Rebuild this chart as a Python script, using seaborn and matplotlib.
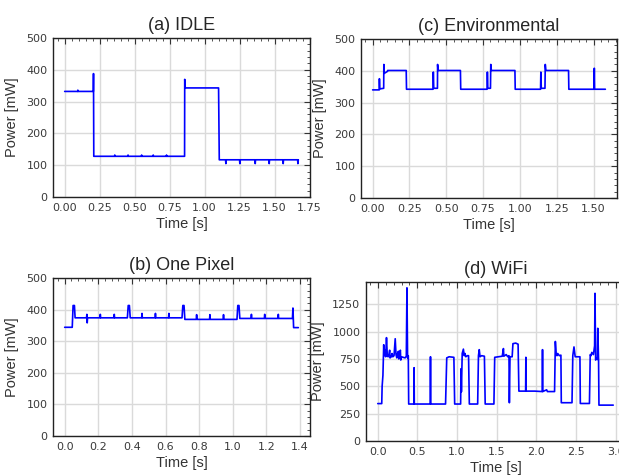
import matplotlib
matplotlib.use("Agg")
import matplotlib.pyplot as plt
from matplotlib.ticker import MultipleLocator, AutoMinorLocator
import seaborn as sns

# (a) IDLE
idle_t = [0.00, 0.093, 0.094, 0.095, 0.205, 0.206, 0.208, 0.357, 0.358, 0.359, 0.452, 0.453, 0.454,
          0.549, 0.550, 0.551, 0.632, 0.633, 0.634, 0.727, 0.728, 0.729, 0.857, 0.858, 0.862,
          1.100, 1.105, 1.150, 1.152, 1.154, 1.250, 1.252, 1.254, 1.360, 1.362, 1.364,
          1.460, 1.462, 1.464, 1.560, 1.562, 1.564, 1.665, 1.667, 1.670]
idle_p = [332, 332, 336, 332, 332, 388, 128, 128, 132, 128, 128, 132, 128,
          128, 132, 128, 128, 132, 128, 128, 132, 128, 128, 370, 343,
          343, 117, 117, 105, 117, 117, 105, 117, 117, 105, 117,
          117, 105, 117, 117, 105, 117, 117, 105, 117]

# (b) One Pixel
pixel_t = [0.000, 0.045, 0.050, 0.058, 0.062, 0.130, 0.132, 0.134, 0.136, 0.210, 0.212, 0.214,
           0.293, 0.295, 0.297, 0.373, 0.378, 0.385, 0.390, 0.458, 0.460, 0.462,
           0.538, 0.540, 0.542, 0.618, 0.620, 0.622, 0.698, 0.703, 0.710, 0.715,
           0.783, 0.785, 0.787, 0.862, 0.864, 0.866, 0.943, 0.945, 0.947,
           1.025, 1.030, 1.037, 1.042, 1.109, 1.111, 1.113, 1.188, 1.190, 1.192,
           1.269, 1.271, 1.273, 1.355, 1.358, 1.362, 1.390]
pixel_p = [344, 344, 413, 413, 374, 374, 385, 358, 374, 374, 385, 374,
           374, 385, 374, 374, 413, 413, 374, 374, 388, 374,
           374, 388, 374, 374, 388, 374, 374, 413, 413, 369,
           369, 384, 369, 369, 384, 369, 369, 384, 369,
           369, 413, 413, 372, 372, 385, 372, 372, 385, 372,
           372, 385, 372, 372, 405, 343, 343]

# (c) Environmental
env_t = [0.000, 0.045, 0.046, 0.048, 0.075, 0.076, 0.079, 0.100, 0.102, 0.228, 0.230,
         0.410, 0.412, 0.415, 0.440, 0.441, 0.444, 0.596, 0.598,
         0.777, 0.779, 0.782, 0.800, 0.802, 0.806, 0.966, 0.968,
         1.140, 1.142, 1.145, 1.170, 1.172, 1.176, 1.330, 1.332,
         1.503, 1.505, 1.507, 1.580]
env_p = [340, 340, 375, 343, 345, 420, 392, 398, 401, 401, 342,
         342, 396, 345, 345, 420, 401, 401, 342,
         342, 396, 345, 345, 420, 401, 401, 342,
         342, 396, 345, 345, 420, 401, 401, 342,
         342, 408, 342, 342]

# (d) WiFi
wifi_t = [0.000, 0.050, 0.055, 0.065, 0.075, 0.080, 0.090, 0.100, 0.110, 0.120, 0.130, 0.140,
          0.150, 0.155, 0.170, 0.180, 0.190, 0.205, 0.220, 0.230, 0.240, 0.250, 0.260, 0.265,
          0.275, 0.285, 0.290, 0.300, 0.320, 0.345, 0.360, 0.368, 0.376, 0.385, 0.390,
          0.455, 0.458, 0.461, 0.662, 0.665, 0.668, 0.855, 0.870, 0.900, 0.960, 0.970,
          1.045, 1.050, 1.055, 1.065, 1.080, 1.090, 1.100, 1.110, 1.130, 1.145, 1.155,
          1.260, 1.270, 1.280, 1.290, 1.310, 1.345, 1.355, 1.465, 1.475, 1.520, 1.570,
          1.585, 1.590, 1.620, 1.640, 1.655, 1.660, 1.668, 1.695, 1.705, 1.740, 1.770,
          1.780, 1.865, 1.868, 1.871, 1.980, 2.075, 2.078, 2.081, 2.130, 2.140, 2.230,
          2.240, 2.250, 2.260, 2.270, 2.290, 2.310, 2.315, 2.450, 2.460, 2.475, 2.490,
          2.550, 2.555, 2.670, 2.680, 2.690, 2.700, 2.720, 2.735, 2.740, 2.748, 2.760,
          2.770, 2.775, 2.785, 2.790, 2.970]
wifi_p = [342, 342, 500, 600, 880, 780, 830, 770, 945, 780, 770, 790,
          830, 760, 770, 800, 770, 780, 935, 790, 760, 800, 820, 750,
          790, 830, 740, 770, 765, 760, 775, 1400, 760, 780, 338,
          338, 670, 338, 338, 770, 338, 338, 760, 770, 765, 338,
          338, 660, 450, 800, 840, 780, 800, 770, 780, 780, 338,
          338, 780, 835, 770, 780, 775, 338, 338, 765, 770, 775,
          845, 775, 790, 770, 780, 350, 770, 770, 890, 895, 885,
          456, 456, 765, 456, 456, 452, 835, 452, 468, 452, 452,
          910, 800, 780, 800, 780, 785, 350, 350, 780, 860, 770,
          770, 343, 343, 790, 780, 810, 790, 870, 1350, 740, 760,
          745, 1030, 740, 328, 328]

sns.set_theme(style="whitegrid")
plt.rcParams['font.family'] = ['Liberation Sans', 'DejaVu Sans']

fig = plt.figure(figsize=(6.19, 4.75), dpi=100)


def draw(rect, t, p, title, xstep, ystep, ytop=500):
    ax = fig.add_axes(rect)
    sns.lineplot(x=t, y=p, ax=ax, color='#0000ff', linewidth=1.2,
                 estimator=None, sort=False)
    if ytop is None:
        ax.set_ylim(bottom=0)
    else:
        ax.set_ylim(0, ytop)
    ax.xaxis.set_major_locator(MultipleLocator(xstep))
    ax.yaxis.set_major_locator(MultipleLocator(ystep))
    ax.xaxis.set_minor_locator(AutoMinorLocator(5))
    ax.yaxis.set_minor_locator(AutoMinorLocator(5))
    ax.tick_params(which='both', direction='in', top=True, right=True,
                   color='#333333', labelcolor='#3a3a3a',
                   labelsize=8, labelfontfamily='DejaVu Sans')
    ax.tick_params(which='major', length=4, width=0.8, pad=4)
    ax.tick_params(which='minor', length=2, width=0.6)
    ax.grid(which='major', color='#dadada', linewidth=1.0)
    ax.grid(which='minor', visible=False)
    for s in ax.spines.values():
        s.set_color('#222222')
        s.set_linewidth(1.0)
    ax.set_title(title, fontsize=13, pad=6)
    ax.set_xlabel('Time [s]', fontsize=10.5, color='#333333', labelpad=3)
    ax.set_ylabel('Power [mW]', fontsize=10.5, color='#333333', labelpad=5)
    return ax


draw([53/619, 1-197/475, 257/619, 159/475], idle_t, idle_p, '(a) IDLE', 0.25, 100)
draw([53/619, 1-436/475, 257/619, 158/475], pixel_t, pixel_p, '(b) One Pixel', 0.2, 100)
draw([361/619, 1-198/475, 256/619, 159/475], env_t, env_p, '(c) Environmental', 0.25, 100)
draw([366/619, 1-441/475, 259/619, 159/475], wifi_t, wifi_p, '(d) WiFi', 0.5, 250, ytop=None)

fig.savefig('out.png', dpi=100)
